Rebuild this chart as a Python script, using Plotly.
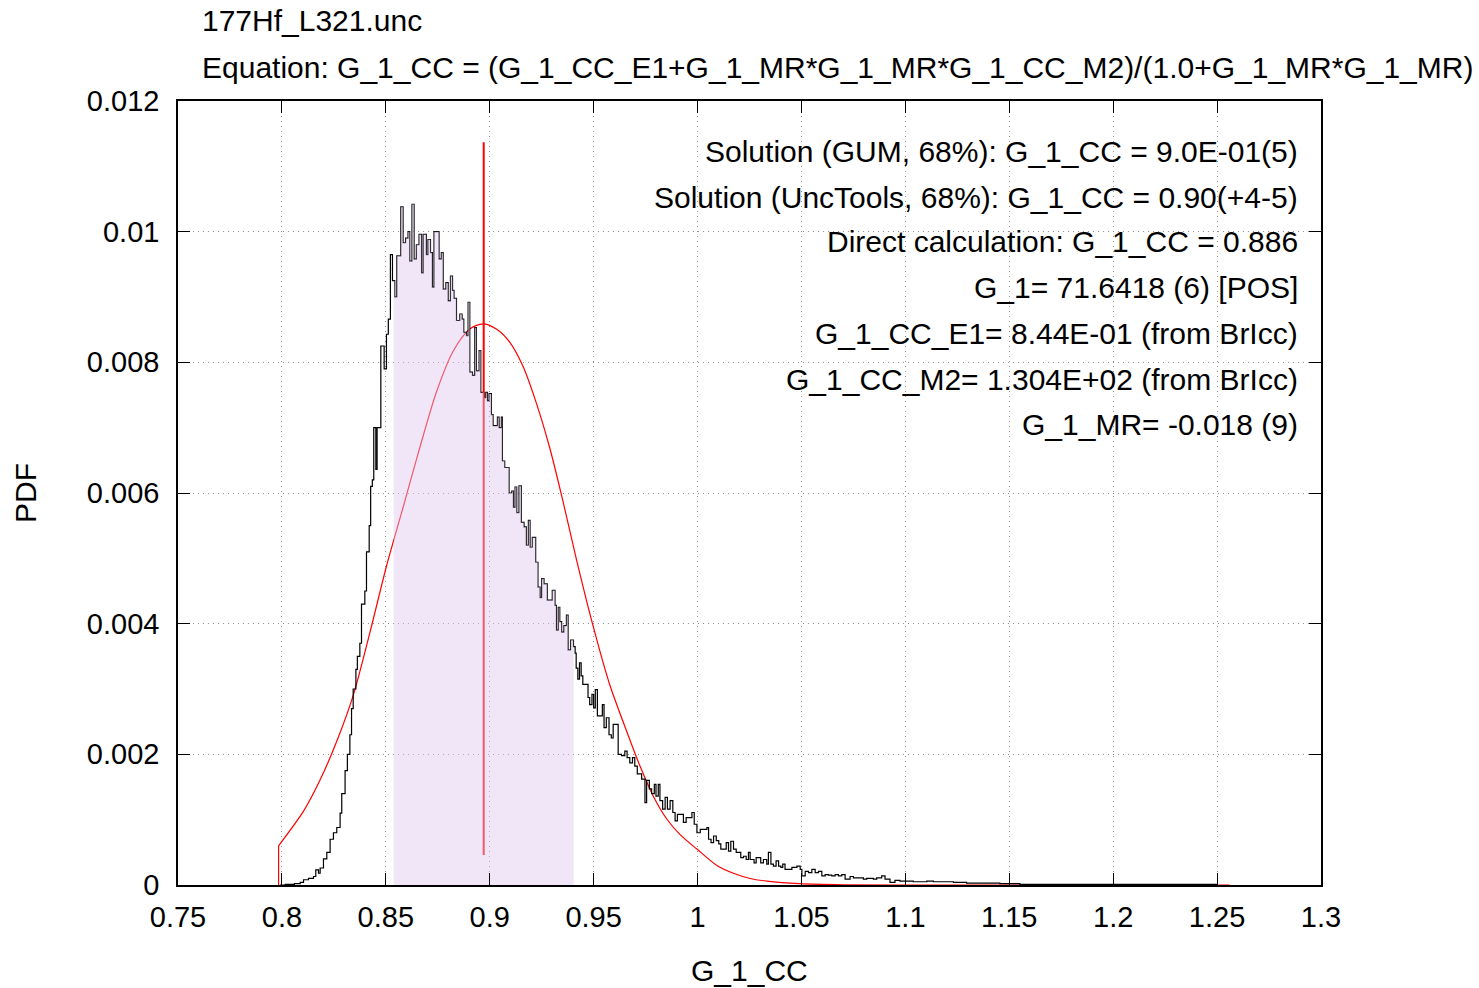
import plotly.graph_objects as go

# ---------------- data ----------------
hist_x = [0.7990, 0.8016, 0.8060, 0.8088, 0.8104, 0.8128, 0.8152, 0.8163, 0.8176, 0.8184,
          0.8200, 0.8216, 0.8232, 0.8248, 0.8264, 0.8280, 0.8288, 0.8304, 0.8315, 0.8327,
          0.8335, 0.8343, 0.8356, 0.8363, 0.8375, 0.8383, 0.8399, 0.8407, 0.8420, 0.8427,
          0.8435, 0.8442, 0.8452, 0.8458, 0.8476, 0.8492, 0.8503, 0.8512, 0.8522, 0.8532,
          0.8543, 0.8553, 0.8572, 0.8583, 0.8595, 0.8607, 0.8615, 0.8626, 0.8636, 0.8647,
          0.8660, 0.8672, 0.8680, 0.8695, 0.8703, 0.8715, 0.8724, 0.8732, 0.8746, 0.8756,
          0.8767, 0.8776, 0.8789, 0.8800, 0.8811, 0.8821, 0.8828, 0.8840, 0.8856, 0.8867,
          0.8875, 0.8888, 0.8896, 0.8904, 0.8917, 0.8928, 0.8936, 0.8949, 0.8957, 0.8973,
          0.8981, 0.8989, 0.8997, 0.9008, 0.9016, 0.9037, 0.9045, 0.9056, 0.9061, 0.9072,
          0.9093, 0.9106, 0.9114, 0.9122, 0.9130, 0.9141, 0.9152, 0.9165, 0.9176, 0.9186,
          0.9194, 0.9205, 0.9221, 0.9232, 0.9242, 0.9250, 0.9261, 0.9277, 0.9301, 0.9314,
          0.9321, 0.9330, 0.9337, 0.9346, 0.9357, 0.9369, 0.9377, 0.9389, 0.9403, 0.9411,
          0.9416, 0.9424, 0.9432, 0.9440, 0.9448, 0.9473, 0.9481, 0.9492, 0.9500, 0.9508,
          0.9518, 0.9542, 0.9550, 0.9561, 0.9574, 0.9585, 0.9594, 0.9618, 0.9634, 0.9650,
          0.9661, 0.9674, 0.9687, 0.9698, 0.9710, 0.9731, 0.9747, 0.9755, 0.9768, 0.9779,
          0.9792, 0.9800, 0.9811, 0.9819, 0.9832, 0.9844, 0.9855, 0.9868, 0.9881, 0.9892,
          0.9903, 0.9932, 0.9945, 0.9973, 0.9984, 0.9997, 1.0013, 1.0045, 1.0053, 1.0065,
          1.0077, 1.0090, 1.0102, 1.0112, 1.0138, 1.0149, 1.0160, 1.0173, 1.0186, 1.0208,
          1.0221, 1.0234, 1.0245, 1.0253, 1.0272, 1.0282, 1.0304, 1.0317, 1.0333, 1.0341,
          1.0353, 1.0365, 1.0378, 1.0390, 1.0401, 1.0410, 1.0421, 1.0454, 1.0478, 1.0494,
          1.0502, 1.0518, 1.0534, 1.0550, 1.0566, 1.0582, 1.0598, 1.0614, 1.0630, 1.0646,
          1.0662, 1.0678, 1.0694, 1.0710, 1.0734, 1.0750, 1.0798, 1.0814, 1.0846, 1.0862,
          1.0886, 1.0902, 1.0926, 1.0950, 1.0974, 1.1038, 1.1071, 1.1103, 1.1135, 1.1231,
          1.1295, 1.1359, 1.1455, 1.1551, 1.2000, 1.2500]
hist_y = [0.0, 0.00001, 0.00002, 0.00004, 0.00008, 0.00010, 0.00013, 0.00023, 0.00018, 0.00026,
          0.00040, 0.00050, 0.00070, 0.00080, 0.00088, 0.00110, 0.00140, 0.00175, 0.00200, 0.00230,
          0.00270, 0.00300, 0.00330, 0.00350, 0.00370, 0.00430, 0.00450, 0.00510, 0.00550, 0.00610,
          0.00620, 0.00700, 0.00636, 0.00700, 0.00825, 0.00790, 0.00843, 0.00866, 0.00965, 0.00925,
          0.00900, 0.00963, 0.01038, 0.00983, 0.00990, 0.01000, 0.00955, 0.01042, 0.00958, 0.00980,
          0.00996, 0.00937, 0.00996, 0.00965, 0.00988, 0.00968, 0.00915, 0.01000, 0.01000, 0.00958,
          0.00968, 0.00912, 0.00922, 0.00894, 0.00932, 0.00910, 0.00898, 0.00864, 0.00874, 0.00866,
          0.00846, 0.00841, 0.00892, 0.00785, 0.00780, 0.00853, 0.00787, 0.00818, 0.00754, 0.00746,
          0.00754, 0.00741, 0.00752, 0.00720, 0.00703, 0.00716, 0.00700, 0.00716, 0.00649, 0.00639,
          0.00600, 0.00603, 0.00578, 0.00609, 0.00570, 0.00611, 0.00555, 0.00548, 0.00520, 0.00558,
          0.00517, 0.00532, 0.00494, 0.00456, 0.00440, 0.00469, 0.00461, 0.00436, 0.00451, 0.00428,
          0.00390, 0.00425, 0.00403, 0.00387, 0.00397, 0.00413, 0.00360, 0.00375, 0.00365, 0.00355,
          0.00332, 0.00315, 0.00340, 0.00320, 0.00307, 0.00287, 0.00276, 0.00292, 0.00271, 0.00299,
          0.00259, 0.00276, 0.00241, 0.00256, 0.00230, 0.00225, 0.00246, 0.00200, 0.00198, 0.00205,
          0.00195, 0.00187, 0.00195, 0.00182, 0.00170, 0.00162, 0.00126, 0.00160, 0.00147, 0.00140,
          0.00154, 0.00136, 0.00154, 0.00129, 0.00116, 0.00134, 0.00116, 0.00129, 0.00111, 0.00098,
          0.00108, 0.00096, 0.00103, 0.00111, 0.00093, 0.00080, 0.00085, 0.00088, 0.00070, 0.00065,
          0.00075, 0.00068, 0.00063, 0.00055, 0.00065, 0.00052, 0.00067, 0.00055, 0.00050, 0.00042,
          0.00044, 0.00039, 0.00050, 0.00039, 0.00034, 0.00042, 0.00034, 0.00039, 0.00032, 0.00050,
          0.00032, 0.00029, 0.00037, 0.00029, 0.00027, 0.00032, 0.00024, 0.00027, 0.00029, 0.00024,
          0.00014, 0.00021, 0.00019, 0.00024, 0.00019, 0.00021, 0.00014, 0.00016, 0.00015, 0.00014,
          0.00016, 0.00014, 0.00016, 0.00009, 0.00013, 0.00011, 0.00009, 0.00010, 0.00009, 0.00011,
          0.00014, 0.00009, 0.00004, 0.00007, 0.00006, 0.00005, 0.00005, 0.00006, 0.00005, 0.00004,
          0.00003, 0.00003, 0.00002, 0.00001, 0.00001, 0.0]

gauss_x = [0.7984, 0.8104, 0.8184, 0.8264, 0.8344, 0.8424, 0.8504, 0.8584, 0.8664, 0.8744,
           0.8824, 0.8904, 0.8968, 0.9032, 0.9096, 0.9160, 0.9224, 0.9288, 0.9352, 0.9416,
           0.9496, 0.9576, 0.9664, 0.9723, 0.9787, 0.9852, 0.9916, 0.9997, 1.0093, 1.0173,
           1.0253, 1.0333, 1.0490, 1.0700, 1.1000, 1.2560]
gauss_y = [0.00060, 0.00113, 0.00161, 0.00220, 0.00291, 0.00387, 0.00489, 0.00579, 0.00670, 0.00755,
           0.00817, 0.00851, 0.00859, 0.00851, 0.00831, 0.00794, 0.00738, 0.00670, 0.00588, 0.00500,
           0.00398, 0.00308, 0.00231, 0.00182, 0.00136, 0.00101, 0.00077, 0.00055, 0.00030, 0.00018,
           0.00010, 0.00006, 0.00002, 0.000003, 0.0, 0.0]

mean_x = 0.8971
mean_line_y = [0.00046, 0.01137]
interval = [0.8538, 0.9404]

x_ticks = [0.75, 0.8, 0.85, 0.9, 0.95, 1.0, 1.05, 1.1, 1.15, 1.2, 1.25, 1.3]
x_ticktext = ["0.75", "0.8", "0.85", "0.9", "0.95", "1", "1.05", "1.1", "1.15", "1.2", "1.25", "1.3"]
y_ticks = [0, 0.002, 0.004, 0.006, 0.008, 0.010, 0.012]
y_ticktext = ["0", "0.002", "0.004", "0.006", "0.008", "0.01", "0.012"]

title_lines = ["177Hf_L321.unc",
               "Equation: G_1_CC = (G_1_CC_E1+G_1_MR*G_1_MR*G_1_CC_M2)/(1.0+G_1_MR*G_1_MR)"]
info_lines = ["Solution (GUM, 68%): G_1_CC = 9.0E-01(5)",
              "Solution (UncTools, 68%): G_1_CC = 0.90(+4-5)",
              "Direct calculation: G_1_CC = 0.886",
              "G_1= 71.6418 (6) [POS]",
              "G_1_CC_E1= 8.44E-01 (from BrIcc)",
              "G_1_CC_M2= 1.304E+02 (from BrIcc)",
              "G_1_MR= -0.018 (9)"]

FONT = "Liberation Sans, Arial, sans-serif"
FS_TEXT = 30
FS_TICK = 29

# ---------------- shaded interval from the histogram ----------------
fx, fy = [], []
start_val = 0.0
for xv, yv in zip(hist_x, hist_y):
    if xv <= interval[0]:
        start_val = yv
fx.append(interval[0]); fy.append(start_val)
for xv, yv in zip(hist_x, hist_y):
    if interval[0] < xv < interval[1]:
        fx.append(xv); fy.append(yv)
fx.append(interval[1]); fy.append(fy[-1])

RED = "#ff0000"
fig = go.Figure()
# vertical jump at start of the gaussian curve
fig.add_trace(go.Scatter(x=[gauss_x[0], gauss_x[0]], y=[0, gauss_y[0]], mode="lines",
                         line=dict(color=RED, width=1.2), hoverinfo="skip", showlegend=False))
fig.add_trace(go.Scatter(x=gauss_x, y=gauss_y, mode="lines",
                         line=dict(color=RED, width=1.2, shape="spline", smoothing=0.8),
                         hoverinfo="skip", showlegend=False))
fig.add_trace(go.Scatter(x=hist_x, y=hist_y, mode="lines", line_shape="hv",
                         line=dict(color="#000000", width=1.2),
                         hoverinfo="skip", showlegend=False))
fig.add_trace(go.Scatter(x=[mean_x, mean_x], y=mean_line_y, mode="lines",
                         line=dict(color=RED, width=2),
                         hoverinfo="skip", showlegend=False))
fig.add_trace(go.Scatter(x=fx, y=fy, mode="lines", line_shape="hv",
                         line=dict(width=0, color="rgba(0,0,0,0)"),
                         fill="tozeroy", fillcolor="rgba(222,199,239,0.45)",
                         hoverinfo="skip", showlegend=False))

axis_common = dict(showline=True, linecolor="black", linewidth=1.5, mirror="ticks",
                   ticks="inside", ticklen=12, tickcolor="black", tickwidth=1,
                   showgrid=True, gridcolor="#909090", griddash="1px,4px", gridwidth=1,
                   zeroline=False, tickfont=dict(family=FONT, size=FS_TICK, color="black"))

fig.update_xaxes(range=[0.75, 1.3], tickvals=x_ticks, ticktext=x_ticktext,
                 ticklabelstandoff=5, **axis_common)
fig.update_yaxes(range=[0, 0.012], tickvals=y_ticks, ticktext=y_ticktext,
                 ticklabelstandoff=11, **axis_common)

annotations = []
annotations.append(dict(text=title_lines[0], xref="paper", yref="paper",
                        x=0.0192, y=1.1033, xanchor="left", yanchor="middle", showarrow=False,
                        font=dict(family=FONT, size=FS_TEXT, color="black")))
annotations.append(dict(text=title_lines[1], xref="paper", yref="paper",
                        x=0.0192, y=1.0421, xanchor="left", yanchor="middle", showarrow=False,
                        font=dict(family=FONT, size=FS_TEXT, color="black")))
info_y_px = [152, 197, 242, 288, 333, 379, 424]
for txt, ypx in zip(info_lines, info_y_px):
    annotations.append(dict(text=txt, xref="paper", yref="paper",
                            x=(1300 - 178) / 1143, y=(885 - ypx) / 784,
                            xanchor="right", yanchor="middle", showarrow=False,
                            font=dict(family=FONT, size=FS_TEXT, color="black")))
annotations.append(dict(text="G_1_CC", xref="paper", yref="paper",
                        x=0.5, y=(885 - 970) / 784, xanchor="center", yanchor="middle",
                        showarrow=False, font=dict(family=FONT, size=FS_TEXT, color="black")))
annotations.append(dict(text="PDF", xref="paper", yref="paper",
                        x=(25 - 178) / 1143, y=0.5, xanchor="center", yanchor="middle",
                        textangle=-90, showarrow=False,
                        font=dict(family=FONT, size=FS_TEXT, color="black")))

fig.update_layout(width=1479, height=988,
                  margin=dict(l=178, r=158, t=101, b=103, autoexpand=False),
                  paper_bgcolor="white", plot_bgcolor="white",
                  annotations=annotations, showlegend=False)

fig.write_html("out.html")
